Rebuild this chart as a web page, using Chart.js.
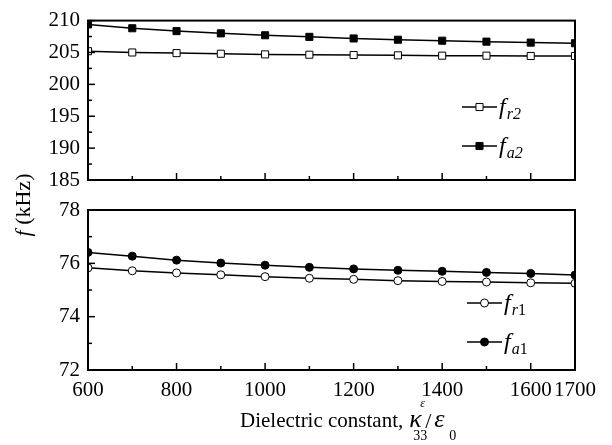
<!DOCTYPE html>
<html>
<head>
<meta charset="utf-8">
<script src="https://cdn.jsdelivr.net/npm/chart.js@4.4.1/dist/chart.umd.min.js"></script>
<style>
  html, body { margin: 0; padding: 0; background: #fff; }
  #wrap { position: relative; width: 612px; height: 445px; }
  #wrap canvas { position: absolute; left: 0; top: 0; }
</style>
</head>
<body>
<div id="wrap">
  <canvas id="top" width="612" height="445"></canvas>
  <canvas id="bot" width="612" height="445"></canvas>
</div>
<script>
// ---- data ----
const xValues = [600, 700, 800, 900, 1000, 1100, 1200, 1300, 1400, 1500, 1600, 1700];
const fr2 = [205.2, 205.0, 204.9, 204.8, 204.7, 204.65, 204.6, 204.55, 204.5, 204.5, 204.45, 204.45];
const fa2 = [209.4, 208.8, 208.35, 208.0, 207.7, 207.45, 207.2, 207.0, 206.85, 206.7, 206.55, 206.45];
const fr1 = [75.83, 75.72, 75.64, 75.57, 75.50, 75.44, 75.40, 75.35, 75.32, 75.30, 75.27, 75.25];
const fa1 = [76.41, 76.27, 76.12, 76.01, 75.93, 75.85, 75.79, 75.74, 75.70, 75.66, 75.62, 75.56];

const xTickLabels = [600, 800, 1000, 1200, 1400, 1600, 1700];
const xMajor = [600, 800, 1000, 1200, 1400, 1600];
const xMinor = [700, 900, 1100, 1300, 1500];
const yTopTicks = [185, 190, 195, 200, 205, 210];
const yTopMinor = [187.5, 192.5, 197.5, 202.5, 207.5];
const yBotTicks = [72, 74, 76, 78];
const yBotMinor = [73, 75, 77];

const SERIF = '"Liberation Serif", serif';

function framePlugin(yMajor, yMinor) {
  return {
    id: 'frame',
    afterDatasetsDraw(chart) {
      const ctx = chart.ctx, a = chart.chartArea;
      const xs = chart.scales.x, ys = chart.scales.y;
      ctx.save();
      ctx.strokeStyle = '#000';
      ctx.lineWidth = 1.5;
      xMajor.forEach(v => { const p = xs.getPixelForValue(v); ctx.beginPath(); ctx.moveTo(p, a.bottom); ctx.lineTo(p, a.bottom - 7); ctx.stroke(); });
      xMinor.forEach(v => { const p = xs.getPixelForValue(v); ctx.beginPath(); ctx.moveTo(p, a.bottom); ctx.lineTo(p, a.bottom - 4); ctx.stroke(); });
      yMajor.forEach(v => { const p = ys.getPixelForValue(v); ctx.beginPath(); ctx.moveTo(a.left, p); ctx.lineTo(a.left + 7, p); ctx.stroke(); });
      yMinor.forEach(v => { const p = ys.getPixelForValue(v); ctx.beginPath(); ctx.moveTo(a.left, p); ctx.lineTo(a.left + 4, p); ctx.stroke(); });
      ctx.lineWidth = 2;
      ctx.strokeRect(a.left, a.top, a.right - a.left, a.bottom - a.top);
      ctx.restore();
    }
  };
}

function drawMarker(ctx, style, x, y, r, fill) {
  ctx.save();
  ctx.fillStyle = fill; ctx.strokeStyle = '#000'; ctx.lineWidth = 1;
  ctx.beginPath();
  if (style === 'rect') { const s = r * Math.SQRT1_2; ctx.rect(x - s, y - s, 2 * s, 2 * s); }
  else { ctx.arc(x, y, r, 0, Math.PI * 2); }
  ctx.fill(); ctx.stroke();
  ctx.restore();
}

function legendPlugin(items) {
  return {
    id: 'customLegend',
    afterDraw(chart) {
      const ctx = chart.ctx;
      items.forEach(it => {
        ctx.save();
        ctx.strokeStyle = '#000'; ctx.lineWidth = 1.5;
        ctx.beginPath(); ctx.moveTo(it.x, it.y); ctx.lineTo(it.x + 35, it.y); ctx.stroke();
        drawMarker(ctx, it.style, it.x + 17.5, it.y, it.r, it.fill);
        ctx.fillStyle = '#000';
        ctx.textBaseline = 'alphabetic';
        ctx.font = 'italic 24px ' + SERIF;
        ctx.fillText('f', it.x + 37, it.y + 7);
        const fw = ctx.measureText('f').width;
        ctx.font = 'italic 16px ' + SERIF;
        ctx.fillText(it.sub1, it.x + 37 + fw + 1, it.y + 12);
        const sw = ctx.measureText(it.sub1).width;
        ctx.font = (it.sub2italic ? 'italic ' : '') + '16px ' + SERIF;
        ctx.fillText(it.sub2, it.x + 37 + fw + 1 + sw, it.y + 12);
        ctx.restore();
      });
    }
  };
}

const titlePlugin = {
  id: 'titles',
  afterDraw(chart) {
    const ctx = chart.ctx;
    ctx.save();
    ctx.fillStyle = '#000';
    ctx.textBaseline = 'alphabetic';
    // y title
    ctx.save();
    ctx.translate(30, 205);
    ctx.rotate(-Math.PI / 2);
    ctx.font = 'italic 22px ' + SERIF;
    const w1 = ctx.measureText('f').width;
    ctx.font = '22px ' + SERIF;
    const w2 = ctx.measureText(' (kHz)').width;
    let sx = -(w1 + w2) / 2;
    ctx.font = 'italic 22px ' + SERIF;
    ctx.fillText('f', sx, 0);
    ctx.font = '22px ' + SERIF;
    ctx.fillText(' (kHz)', sx + w1, 0);
    ctx.restore();
    // x title
    const base = 427;
    ctx.font = '21px ' + SERIF;
    const main = 'Dielectric constant,';
    ctx.fillText(main, 240, base);
    const x0 = 240 + ctx.measureText(main).width + 6;
    ctx.font = 'italic 26px ' + SERIF;
    ctx.fillText('κ', x0, base);
    ctx.font = 'italic 12px ' + SERIF;
    ctx.fillText('ε', x0 + 11, base - 20);
    ctx.font = '14px ' + SERIF;
    ctx.fillText('33', x0 + 4, base + 13);
    ctx.font = '22px ' + SERIF;
    ctx.fillText('/', x0 + 16, base + 1);
    ctx.font = 'italic 26px ' + SERIF;
    ctx.fillText('ε', x0 + 25, base);
    ctx.font = '14px ' + SERIF;
    ctx.fillText('0', x0 + 40, base + 13);
    ctx.restore();
  }
};

function lineDs(label, data, style, r, fill) {
  return {
    label, data: xValues.map((v, i) => ({ x: v, y: data[i] })),
    borderColor: '#000', borderWidth: 1.5, tension: 0,
    pointStyle: style, pointRadius: r, pointHoverRadius: r,
    pointBackgroundColor: fill, pointBorderColor: '#000', pointBorderWidth: 1
  };
}

function baseOptions(padding, yMin, yMax, yTicks, showX, xHeight) {
  return {
    responsive: false, animation: false, devicePixelRatio: 1,
    layout: { padding },
    plugins: { legend: { display: false }, tooltip: { enabled: false } },
    scales: {
      x: {
        type: 'linear', min: 600, max: 1700,
        grid: { display: false, drawTicks: false }, border: { display: false },
        afterBuildTicks: s => { s.ticks = xTickLabels.map(v => ({ value: v })); },
        afterFit: s => { s.height = xHeight; },
        ticks: { display: showX, autoSkip: false, maxRotation: 0, minRotation: 0, padding: 8,
                 color: '#000', font: { family: SERIF, size: 21 },
                 callback: v => String(v) }
      },
      y: {
        min: yMin, max: yMax,
        grid: { display: false, drawTicks: false }, border: { display: false },
        afterBuildTicks: s => { s.ticks = yTicks.map(v => ({ value: v })); },
        afterFit: s => { s.width = 88; },
        ticks: { padding: 8, color: '#000', font: { family: SERIF, size: 21 },
                 callback: v => String(v) }
      }
    }
  };
}

new Chart(document.getElementById('top'), {
  type: 'line',
  data: { datasets: [
    lineDs('fr2', fr2, 'rect', 5, '#fff'),
    lineDs('fa2', fa2, 'rect', 5, '#000')
  ] },
  options: baseOptions({ left: 0, right: 37, top: 20, bottom: 265 }, 185, 210, yTopTicks, false, 0),
  plugins: [framePlugin(yTopTicks, yTopMinor), legendPlugin([
    { x: 462, y: 107, style: 'rect', r: 5, fill: '#fff', sub1: 'r', sub2: '2', sub2italic: true },
    { x: 462, y: 146, style: 'rect', r: 5, fill: '#000', sub1: 'a', sub2: '2', sub2italic: true }
  ])]
});

new Chart(document.getElementById('bot'), {
  type: 'line',
  data: { datasets: [
    lineDs('fr1', fr1, 'circle', 4, '#fff'),
    lineDs('fa1', fa1, 'circle', 4, '#000')
  ] },
  options: baseOptions({ left: 0, right: 37, top: 210, bottom: 0 }, 72, 78, yBotTicks, true, 75),
  plugins: [framePlugin(yBotTicks, yBotMinor), legendPlugin([
    { x: 467, y: 303, style: 'circle', r: 4, fill: '#fff', sub1: 'r', sub2: '1', sub2italic: false },
    { x: 467, y: 342, style: 'circle', r: 4, fill: '#000', sub1: 'a', sub2: '1', sub2italic: false }
  ]), titlePlugin]
});
</script>
</body>
</html>
